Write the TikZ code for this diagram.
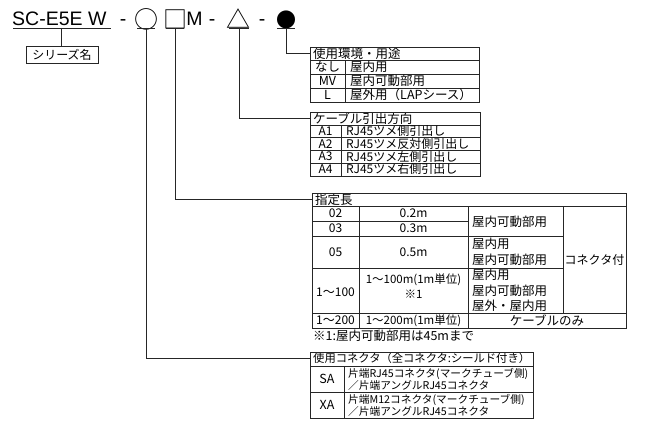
\documentclass[tikz,border=0pt]{standalone}
\usepackage{fontspec}
\setmainfont{Liberation Sans}
\newfontfamily\jp{Noto Sans CJK JP}
\tikzset{
  ttl/.style={font=\fontsize{19.5}{20}\selectfont, inner sep=0pt, text=black},
  sym/.style={font=\jp\fontsize{24}{25}\selectfont, inner sep=0pt},
  cell/.style={font=\jp\fontsize{12.5}{15.5}\selectfont, inner sep=0pt, align=left},
  rowcell/.style={font=\jp\fontsize{12}{14}\selectfont, inner sep=0pt, align=left},
  smallcell/.style={font=\jp\fontsize{10.7}{12}\selectfont, inner sep=0pt, align=left},
  grid/.style={draw=black!85, line width=0.6pt},
  conn/.style={draw=black!85, line width=0.6pt},
  hdr/.style={font=\jp\fontsize{12.5}{15}\selectfont, inner xsep=3pt, inner ysep=0pt, minimum height=13pt, anchor=north west, align=left}
}
\begin{document}
\begin{tikzpicture}[x=1pt,y=-1pt]
\useasboundingbox (0,0) rectangle (651,436);
\fill[white] (0,0) rectangle (651,436);
% ---------- title ----------
\node[ttl, anchor=base west] (series) at (12,26) {SC-E5E W};
\node[ttl, anchor=base] (d1) at (123,26) {-};
\node[sym] (circ) at (146,19) {○};
\node[sym] (sq) at (175,19) {□};
\node[ttl, anchor=base] (mm) at (194.5,26) {M};
\node[ttl, anchor=base] (d2) at (212,26) {-};
\node[sym] (tri) at (238.5,19) {△};
\node[ttl, anchor=base] (d3) at (262,26) {-};
\node[sym, font=\jp\fontsize{20}{21}\selectfont] (dot) at (286,19.5) {●};
% underlines
\draw[conn] (13,28) -- (111,28);
\draw[conn] (137,28) -- (155,28);
\draw[conn] (166,28) -- (184,28);
\draw[conn] (229,28) -- (249,28);
\draw[conn] (277,28) -- (295,28);
\coordinate (u0) at (61,28);
\coordinate (u1) at (146,28);
\coordinate (u2) at (175,28);
\coordinate (u3) at (239,28);
\coordinate (u4) at (286,28);
% series name box
\node[draw=black!85, line width=0.6pt, font=\jp\fontsize{12}{13}\selectfont, minimum width=72pt, minimum height=17pt, inner sep=0pt] (sname) at (62,54.5) {シリーズ名};
\draw[conn] (u0) -- (u0 |- sname.north);
% ---------- box 1 ----------
\node[hdr, text width=163pt] (env) at (310,47) {使用環境・用途};
\draw[grid] (310,47) rectangle (479,102);
\draw[grid] (310,60) -- (479,60);
\draw[grid] (310,74) -- (479,74);
\draw[grid] (310,88) -- (479,88);
\draw[grid] (345,60) -- (345,102);
\node[cell] (e1a) at (327.5,66.5) {なし};
\node[cell, anchor=west] (e1b) at (350,66.5) {屋内用};
\node[cell] (e2a) at (327.5,80.5) {MV};
\node[cell, anchor=west] (e2b) at (350,80.5) {屋内可動部用};
\node[cell] (e3a) at (327.5,94.5) {L};
\node[cell, anchor=west] (e3b) at (350,94.5) {屋外用（LAPシース）};
\draw[conn] (u4) |- (env.west);
% ---------- box 2 ----------
\node[hdr, text width=164pt] (dir) at (310,112) {ケーブル引出方向};
\draw[grid] (310,112) rectangle (480,176);
\draw[grid] (310,125) -- (480,125);
\draw[grid] (310,137.75) -- (480,137.75);
\draw[grid] (310,150.5) -- (480,150.5);
\draw[grid] (310,163.25) -- (480,163.25);
\draw[grid] (341,125) -- (341,176);
\node[rowcell] (a1) at (325.5,131) {A1};
\node[rowcell, anchor=west] (a1t) at (346,131) {RJ45ツメ側引出し};
\node[rowcell] (a2) at (325.5,143.8) {A2};
\node[rowcell, anchor=west] (a2t) at (346,143.8) {RJ45ツメ反対側引出し};
\node[rowcell] (a3) at (325.5,156.5) {A3};
\node[rowcell, anchor=west] (a3t) at (346,156.5) {RJ45ツメ左側引出し};
\node[rowcell] (a4) at (325.5,169.2) {A4};
\node[rowcell, anchor=west] (a4t) at (346,169.2) {RJ45ツメ右側引出し};
\draw[conn] (u3) |- (dir.west);
% ---------- box 3 ----------
\node[hdr, text width=308pt] (len) at (312,193) {指定長};
\draw[grid] (312,193) rectangle (626,328);
\draw[grid] (312,206) -- (626,206);
\draw[grid] (359,206) -- (359,328);
\draw[grid] (468,206) -- (468,328);
\draw[grid] (563,206) -- (563,313);
\draw[grid] (312,221) -- (468,221);
\draw[grid] (312,236) -- (563,236);
\draw[grid] (312,268) -- (563,268);
\draw[grid] (312,313) -- (626,313);
\node[rowcell] (l1a) at (335.5,213.3) {02};
\node[rowcell] (l1b) at (413.5,213.3) {0.2m};
\node[rowcell] (l2a) at (335.5,228.3) {03};
\node[rowcell] (l2b) at (413.5,228.3) {0.3m};
\node[cell, anchor=west] (l12c) at (472,221.5) {屋内可動部用};
\node[rowcell] (l3a) at (335.5,252) {05};
\node[rowcell] (l3b) at (413.5,252) {0.5m};
\node[cell, anchor=west] (l3c) at (472,252) {屋内用\\屋内可動部用};
\node[rowcell] (l4a) at (335.5,292) {1～100};
\node[rowcell, align=center, font=\jp\fontsize{11.5}{15.5}\selectfont] (l4b) at (413.5,286) {1～100m(1m単位)\\※1};
\node[cell, anchor=west] (l4c) at (472,290.5) {屋内用\\屋内可動部用\\屋外・屋内用};
\node[rowcell] (conn) at (594.5,259.5) {コネクタ付};
\node[rowcell] (l5a) at (335.5,320.3) {1～200};
\node[rowcell, font=\jp\fontsize{11.5}{14}\selectfont] (l5b) at (413.5,320.3) {1～200m(1m単位)};
\node[cell] (l5c) at (547,320.3) {ケーブルのみ};
\node[cell, anchor=west] (note) at (313,336) {※1:屋内可動部用は45mまで};
\draw[conn] (u2) |- (len.west);
% ---------- box 4 ----------
\node[hdr, text width=217pt, font=\jp\fontsize{11.3}{13}\selectfont] (ctr) at (310,352) {使用コネクタ（全コネクタ:シールド付き）};
\draw[grid] (310,352) rectangle (533,418);
\draw[grid] (310,366) -- (533,366);
\draw[grid] (310,392) -- (533,392);
\draw[grid] (344,366) -- (344,418);
\node[cell] (sa) at (327,379) {SA};
\node[smallcell, anchor=west] (sat) at (348,379) {片端RJ45コネクタ(マークチューブ側)\\／片端アングルRJ45コネクタ};
\node[cell] (xa) at (327,405) {XA};
\node[smallcell, anchor=west] (xat) at (348,405) {片端M12コネクタ(マークチューブ側)\\／片端アングルRJ45コネクタ};
\draw[conn] (u1) |- (ctr.west);
\end{tikzpicture}
\end{document}
